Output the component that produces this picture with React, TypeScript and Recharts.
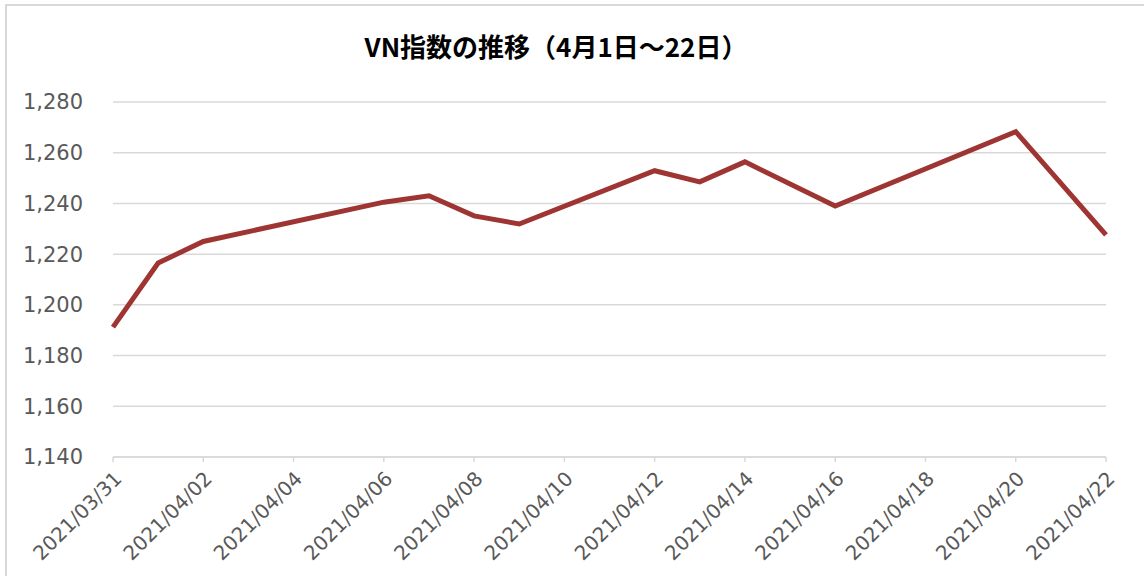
import { LineChart, Line, XAxis, YAxis, CartesianGrid } from "recharts"

// VN指数 (終値) — 取引日のみ
const dates = [
  "2021/03/31", "2021/04/01", "2021/04/02", "2021/04/06", "2021/04/07",
  "2021/04/08", "2021/04/09", "2021/04/12", "2021/04/13", "2021/04/14",
  "2021/04/16", "2021/04/20", "2021/04/22",
]
const vnIndex = [
  1191.2, 1216.5, 1225.0, 1240.5, 1243.0,
  1235.1, 1231.9, 1252.9, 1248.5, 1256.4,
  1239.0, 1268.3, 1227.6,
]
const xTickLabels = [
  "2021/03/31", "2021/04/02", "2021/04/04", "2021/04/06", "2021/04/08", "2021/04/10",
  "2021/04/12", "2021/04/14", "2021/04/16", "2021/04/18", "2021/04/20", "2021/04/22",
]
const yTicks = [1140, 1160, 1180, 1200, 1220, 1240, 1260, 1280]
const TITLE = "VN指数の推移（4月1日～22日）"

const DAY = 86400000
const base = Date.parse(dates[0].replace(/\//g, "-"))
const toDay = (s: string) => Math.round((Date.parse(s.replace(/\//g, "-")) - base) / DAY)

const data = dates.map((d, i) => ({ day: toDay(d), label: d, value: vnIndex[i] }))
const xTicks = xTickLabels.map(toDay)
const labelOf = (day: number) => xTickLabels[xTicks.indexOf(day)] ?? ""

const AXIS_FONT = "Verdana, 'DejaVu Sans'"

// eslint-disable-next-line @typescript-eslint/no-explicit-any
function DateTick(props: any) {
  const { x, y, payload } = props
  return (
    <g transform={`translate(${x + 5},${y + 11}) rotate(-45)`}>
      <text x={0} y={0} dy="0.35em" textAnchor="end" fill="#595959" fontSize={20} fontFamily={AXIS_FONT}>
        {labelOf(payload.value)}
      </text>
    </g>
  )
}

export default function App() {
  return (
    <div style={{ position: "absolute", left: 0, top: 0, width: 1144, height: 576, overflow: "hidden", background: "#fff" }}>
      {/* chart frame: only top/left edges are visible in the crop */}
      <div style={{ position: "absolute", left: 5, top: 4, width: 1200, height: 700, border: "2px solid #d9d9d9" }} />
      <svg style={{ position: "absolute", left: 0, top: 0 }} width={1144} height={90}>
        <text x={556} y={57} textAnchor="middle" fontSize={26} fontWeight="bold" fill="#000"
          fontFamily="'Noto Sans CJK JP'">
          {TITLE}
        </text>
      </svg>
      <div style={{ position: "absolute", left: 0, top: 0 }}>
        <LineChart width={1144} height={576} data={data} margin={{ top: 102, right: 38, left: 0, bottom: 0 }}>
          <CartesianGrid vertical={false} stroke="#d9d9d9" strokeWidth={1.5} />
          <XAxis
            dataKey="day"
            type="number"
            domain={[0, 22]}
            ticks={xTicks}
            interval={0}
            height={119}
            axisLine={{ stroke: "#d9d9d9", strokeWidth: 1.5 }}
            tickLine={{ stroke: "#d9d9d9", strokeWidth: 1.5 }}
            tickSize={5}
            tick={<DateTick />}
          />
          <YAxis
            domain={[1140, 1280]}
            ticks={yTicks}
            interval={0}
            width={113}
            axisLine={false}
            tickLine={false}
            tickSize={0}
            tickMargin={30}
            tickFormatter={(v: number) => v.toLocaleString("en-US")}
            tick={{ fill: "#595959", fontSize: 21, fontFamily: AXIS_FONT }}
          />
          <Line
            type="linear"
            dataKey="value"
            stroke="#9e3532"
            strokeWidth={5}
            dot={false}
            activeDot={false}
            isAnimationActive={false}
          />
        </LineChart>
      </div>
    </div>
  )
}
